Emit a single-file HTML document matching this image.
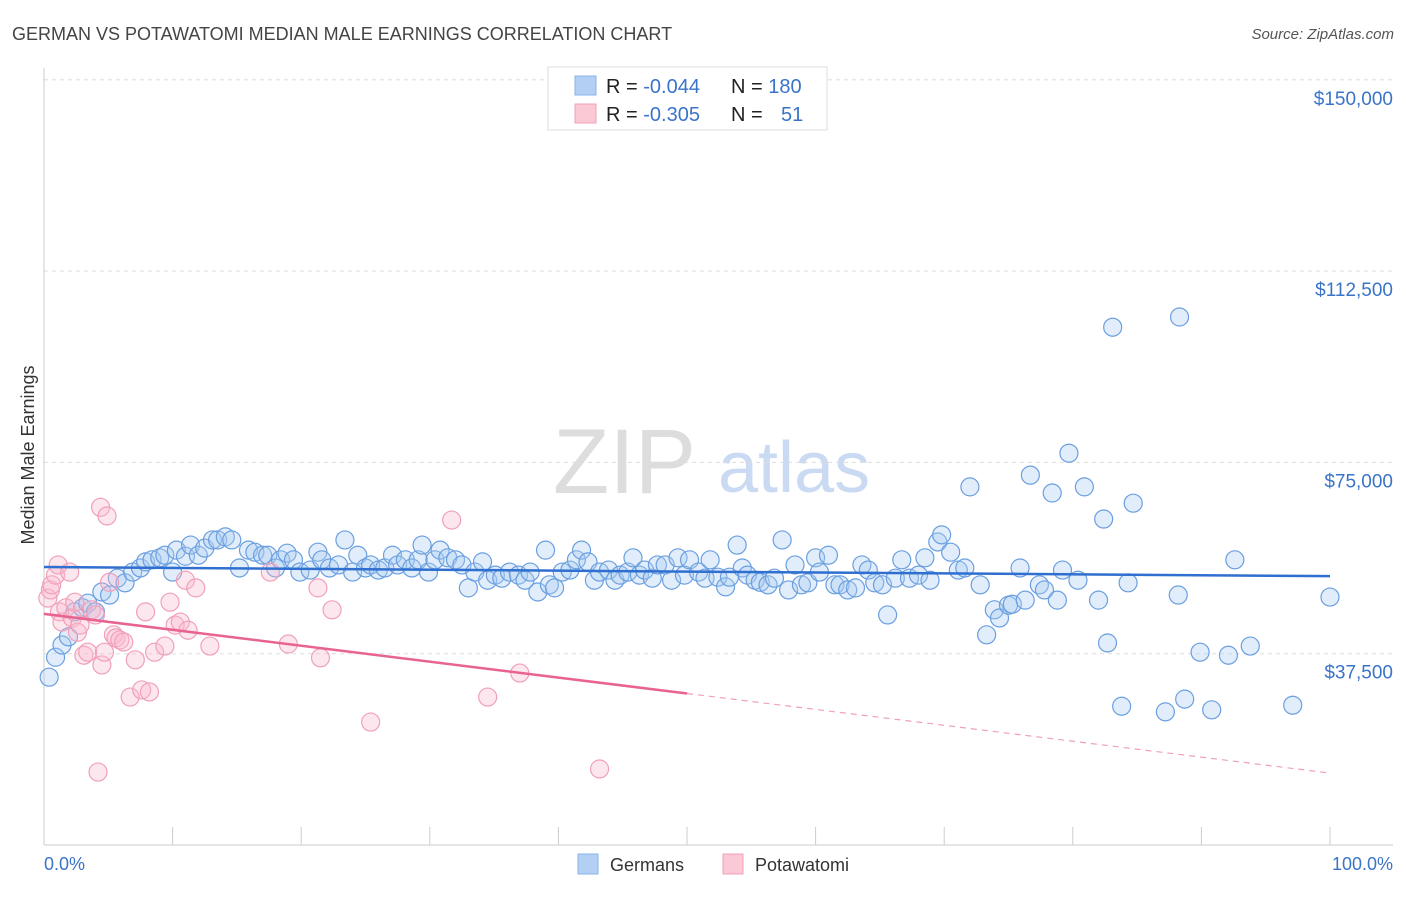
<!DOCTYPE html>
<html><head><meta charset="utf-8"><style>
body{margin:0;background:#fff;font-family:"Liberation Sans",sans-serif;}
svg text{font-family:"Liberation Sans",sans-serif;}
</style></head><body>
<svg id="chart" width="1406" height="892" xmlns="http://www.w3.org/2000/svg">
<text x="12" y="40" font-size="18" fill="#444">GERMAN VS POTAWATOMI MEDIAN MALE EARNINGS CORRELATION CHART</text>
<text x="1394" y="39" font-size="15" fill="#555" font-style="italic" text-anchor="end">Source: ZipAtlas.com</text>
<g>
<text x="553" y="493" font-size="92" fill="#ddd" font-family="Liberation Serif,serif">ZIP</text>
<text x="718" y="492" font-size="72" fill="#c9daf2">atlas</text>
</g>
<text transform="translate(34,455) rotate(-90)" font-size="18" fill="#333" text-anchor="middle">Median Male Earnings</text>
<g id="grid"></g><g id="ticks"></g><g id="pts"></g><g id="lines"></g>
<g>
<rect x="548" y="67" width="279" height="63" fill="#fff" stroke="#ddd"/>
<rect x="575" y="76" width="21" height="19" fill="#b3cff3" stroke="#8ab3e8"/>
<rect x="575" y="104" width="21" height="19" fill="#fbc9d6" stroke="#f0a0b8"/>
<text x="606" y="93" font-size="20" fill="#222">R = <tspan fill="#3a74c9">-0.044</tspan><tspan x="731">N = </tspan><tspan fill="#3a74c9">180</tspan></text>
<text x="606" y="121" font-size="20" fill="#222">R = <tspan fill="#3a74c9"> -0.305</tspan><tspan x="731">N = </tspan><tspan x="781" fill="#3a74c9">51</tspan></text>
</g>
<text x="44" y="870" font-size="18" fill="#3a74c9">0.0%</text>
<text x="1393" y="870" font-size="18" fill="#3a74c9" text-anchor="end">100.0%</text>
<g>
<rect x="578" y="854" width="20" height="20" fill="#b3cff3" stroke="#8ab3e8"/>
<text x="610" y="871" font-size="18" fill="#333">Germans</text>
<rect x="723" y="854" width="20" height="20" fill="#fbc9d6" stroke="#f0a0b8"/>
<text x="755" y="871" font-size="18" fill="#333">Potawatomi</text>
</g>
</svg>
<script>
const yTicks=[37500,75000,112500,150000];
const yTickLabels=["$37,500","$75,000","$112,500","$150,000"];
const xTicks=[0,10,20,30,40,50,60,70,80,90,100];
const germanX=[0.4,0.9,1.4,1.9,2.4,3.0,3.4,4.0,4.5,5.1,5.7,6.3,6.9,7.5,7.9,8.4,9.0,9.4,10.0,10.3,11.0,11.4,12.0,12.5,13.1,13.5,14.1,14.6,15.2,15.9,16.4,17.0,17.4,18.0,18.4,18.9,19.4,19.9,20.7,21.3,21.6,22.2,22.9,23.4,24.0,24.4,25.0,25.4,26.0,26.5,27.1,27.5,28.1,28.6,29.1,29.4,29.9,30.4,30.8,31.4,32.0,32.5,33.0,33.5,34.1,34.5,35.1,35.6,36.2,36.9,37.4,37.8,38.4,39.0,39.3,39.7,40.3,40.9,41.4,41.8,42.3,42.8,43.2,43.9,44.4,44.8,45.4,45.8,46.3,46.7,47.3,47.7,48.3,48.8,49.3,49.8,50.2,50.9,51.4,51.8,52.4,53.0,53.3,53.9,54.3,54.7,55.3,55.7,56.3,56.8,57.4,57.9,58.4,58.9,59.4,60.0,60.3,61.0,61.5,61.9,62.5,63.1,63.6,64.1,64.6,65.2,65.6,66.2,66.7,67.3,68.0,68.5,68.9,69.5,69.8,70.5,71.1,71.6,72.0,72.8,73.3,73.9,74.3,75.0,75.3,75.9,76.3,76.7,77.4,77.8,78.4,78.8,79.2,79.7,80.4,80.9,82.0,82.4,82.7,83.1,83.8,84.3,84.7,87.2,88.2,88.3,88.7,89.9,90.8,92.1,92.6,93.8,97.1,100.0];
const germanY=[32.9,36.8,39.2,40.8,45.7,46.5,47.4,45.7,49.6,49.0,52.3,51.4,53.5,54.3,55.5,55.9,56.3,56.8,53.5,57.8,56.6,58.8,56.8,58.2,59.8,59.8,60.4,59.8,54.3,57.8,57.4,56.8,56.8,54.3,55.9,57.2,55.9,53.5,53.9,57.4,55.9,54.3,54.9,59.8,53.5,56.8,54.3,54.9,53.9,54.3,56.8,54.9,55.9,54.3,55.9,58.8,53.5,55.9,57.8,56.3,55.9,54.9,50.4,53.5,55.5,51.9,52.9,52.3,53.5,52.9,51.9,53.5,49.6,57.8,51.0,50.4,53.5,53.9,55.9,57.8,55.5,51.9,53.5,53.9,51.9,52.9,53.5,56.3,52.9,53.9,52.3,54.9,54.9,51.9,56.3,52.9,55.9,53.5,52.3,55.9,52.5,50.6,52.5,58.8,54.3,52.9,51.9,51.5,51.0,52.3,59.8,50.0,54.9,51.0,51.4,56.3,53.5,56.8,51.0,51.0,50.0,50.4,54.9,53.9,51.4,51.0,45.1,52.3,55.9,52.3,52.9,56.3,51.9,59.4,60.8,57.4,53.9,54.3,70.2,51.0,41.2,46.1,44.5,47.0,47.2,54.3,48.0,72.5,51.0,50.0,69.0,48.0,53.9,76.8,51.9,70.2,48.0,63.9,39.6,101.5,27.2,51.4,67.0,26.1,49.0,103.5,28.6,37.8,26.5,37.2,55.9,39.0,27.4,48.6];
const potX=[0.3,0.5,0.6,0.9,1.1,1.2,1.4,1.7,2.0,2.2,2.4,2.6,2.8,3.1,3.4,3.7,4.0,4.2,4.4,4.5,4.7,4.9,5.1,5.4,5.6,5.9,6.2,6.7,7.1,7.6,7.9,8.2,8.6,9.4,9.8,10.2,10.6,11.0,11.2,11.8,12.9,17.6,19.0,21.3,21.5,22.4,25.4,31.7,34.5,37.0,43.2];
const potY=[48.4,50.0,51.0,52.9,54.9,45.7,43.7,46.5,53.5,44.5,47.6,41.7,43.1,37.2,37.8,46.1,45.1,14.3,66.2,35.3,37.8,64.5,51.5,41.2,40.6,40.2,39.8,29.0,36.3,30.4,45.7,30.0,37.8,39.0,47.6,43.1,43.7,51.9,42.1,50.4,39.0,53.5,39.4,50.4,36.7,46.1,24.1,63.7,29.0,33.7,14.9];
const germanTrend=[54.5,52.7];
const potTrend=[45.3,14.1];
const NS="http://www.w3.org/2000/svg";
const X0=44,X1=1330,Y0=845,YPER=191.3/37500;
function sx(p){return X0+(X1-X0)*p/100;}
function sy(v){return Y0-v*YPER;}
function mk(tag,attrs,parent){const e=document.createElementNS(NS,tag);for(const k in attrs)e.setAttribute(k,attrs[k]);parent.appendChild(e);return e;}
const grid=document.getElementById('grid'),ticks=document.getElementById('ticks'),pts=document.getElementById('pts'),lines=document.getElementById('lines');
yTicks.forEach((t,i)=>{
 const l=mk('line',{x1:44,x2:1393,y1:sy(t),y2:sy(t),stroke:'#ddd','stroke-dasharray':'4,4'},grid);
 
 
 const tx=mk('text',{x:1393,y:sy(t)+25,'font-size':19,fill:'#3a74c9','text-anchor':'end'},ticks);
 tx.textContent=yTickLabels[i];
 
 
});
const ax=mk('line',{x1:44,x2:1393,y1:Y0,y2:Y0,stroke:'#ccc'},ticks);


const ay=mk('line',{x1:44,x2:44,y1:68,y2:Y0,stroke:'#ccc'},ticks);


xTicks.forEach(t=>{
 const l=mk('line',{x1:sx(t),x2:sx(t),y1:Y0,y2:Y0-18,stroke:'#ccc'},ticks);
 
 
});
germanX.forEach((x,i)=>{
 const c=mk('circle',{cx:sx(x),cy:sy(germanY[i]*1000),r:9,fill:'rgba(170,202,242,0.35)',stroke:'#6a9fe0','stroke-width':1.2},pts);
 
 
});
potX.forEach((x,i)=>{
 const c=mk('circle',{cx:sx(x),cy:sy(potY[i]*1000),r:9,fill:'rgba(248,185,205,0.35)',stroke:'#f0a0b8','stroke-width':1.2},pts);
 
 
});
const gl=mk('line',{x1:sx(0),x2:sx(100),y1:sy(germanTrend[0]*1000),y2:sy(germanTrend[1]*1000),stroke:'#2f6fcf','stroke-width':2.5},lines);


const pm=(potTrend[0]+potTrend[1])/2;
const pl=mk('line',{x1:sx(0),x2:sx(50),y1:sy(potTrend[0]*1000),y2:sy(pm*1000),stroke:'#e8638f','stroke-width':2.5},lines);


const pd=mk('line',{x1:sx(50),x2:sx(100),y1:sy(pm*1000),y2:sy(potTrend[1]*1000),stroke:'#f0a0b8','stroke-width':1.2,'stroke-dasharray':'6,5'},lines);


</script>
</body></html>
